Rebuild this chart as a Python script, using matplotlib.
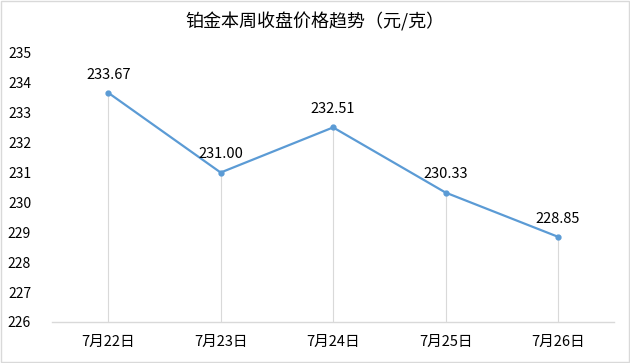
import matplotlib
matplotlib.use("Agg")
import matplotlib.pyplot as plt
from matplotlib.patches import Rectangle

plt.rcParams['font.family'] = ['Noto Sans CJK SC', 'DejaVu Sans']

# closing prices for the week
dates = ["7月22日", "7月23日", "7月24日", "7月25日", "7月26日"]
prices = [233.67, 231.00, 232.51, 230.33, 228.85]
y_ticks = [226, 227, 228, 229, 230, 231, 232, 233, 234, 235]

line_color = "#5B9BD5"

fig = plt.figure(figsize=(6.3, 3.63), dpi=100)
ax = fig.add_axes([0.0825, 0.113, 0.8925, 0.741])

x = list(range(len(dates)))

# drop lines from each point to the axis
ax.vlines(x, y_ticks[0], prices, color="#d9d9d9", linewidth=0.8, zorder=1)
ax.plot(x, prices, color=line_color, linewidth=1.6, marker="o", markersize=3.5, zorder=3)

for xi, p in zip(x, prices):
    ax.annotate(f"{p:.2f}", (xi, p), xytext=(0, 8), textcoords="offset points",
                ha="center", va="bottom", fontsize=10.5, color="#000000")

ax.set_xlim(-0.5, len(dates) - 0.5)
ax.set_ylim(y_ticks[0], y_ticks[-1])
ax.set_xticks(x)
ax.set_xticklabels(dates)
ax.set_yticks(y_ticks)

for side in ["top", "right", "left"]:
    ax.spines[side].set_visible(False)
ax.spines["bottom"].set_color("#d9d9d9")
ax.spines["bottom"].set_linewidth(1.0)

ax.tick_params(axis="x", length=0, pad=9, labelsize=10.5, colors="#000000")
ax.tick_params(axis="y", length=0, pad=15, labelsize=10, colors="#000000")

fig.text(0.5, 0.94, "铂金本周收盘价格趋势（元/克）", ha="center", va="center",
         fontsize=13, color="#000000")

# light chart border
fig.patches.append(Rectangle((0.002, 0.003), 0.996, 0.994, transform=fig.transFigure,
                             fill=False, edgecolor="#d9d9d9", linewidth=1.0))

fig.savefig("out.png", dpi=100)
